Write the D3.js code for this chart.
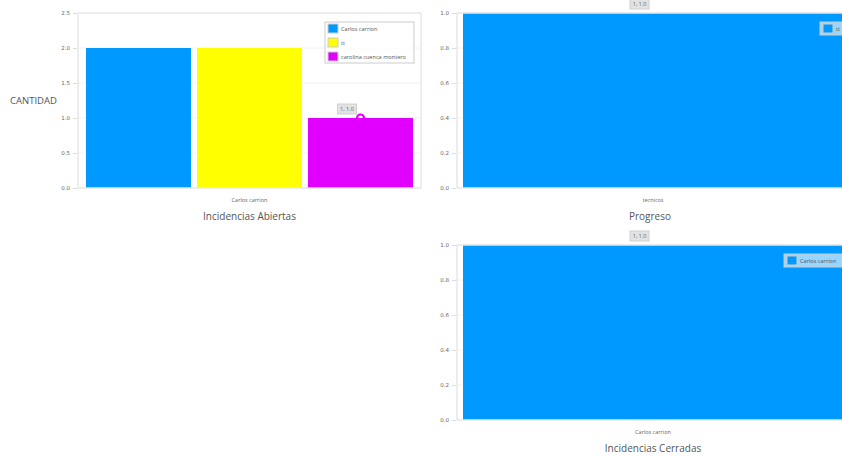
<!DOCTYPE html>
<html>
<head>
<meta charset="utf-8">
<script src="https://cdn.jsdelivr.net/npm/d3@7"></script>
<style>
  body { margin: 0; background: #fff; overflow: hidden; }
  text { font-family: "Open Sans", sans-serif; }
</style>
</head>
<body>
<script>
// data
var abiertasSeries = ['Carlos carrion', 'tt', 'carolina cuenca montero'];
var abiertasValues = [2, 2, 1];
var abiertasCategory = 'Carlos carrion';
var abiertasTicks = [0, 0.5, 1.0, 1.5, 2.0, 2.5];

var progresoSeries = ['tt'];
var progresoValues = [1];
var progresoCategory = 'tecnicos';

var cerradasSeries = ['Carlos carrion'];
var cerradasValues = [1];
var cerradasCategory = 'Carlos carrion';

var unitTicks = [0, 0.2, 0.4, 0.6, 0.8, 1.0];

var colors = ['#0099ff', '#ffff00', '#e100ff'];

var svg = d3.select('body').append('svg')
    .attr('width', 842)
    .attr('height', 457);

svg.append('text')
    .attr('x', 10)
    .attr('y', 104)
    .attr('font-size', '9.5px')
    .attr('fill', '#555')
    .text('CANTIDAD');

function drawPanel(opt) {
    var g = svg.append('g');
    var x0 = opt.left, x1 = opt.right, y0 = opt.top, y1 = opt.bottom;

    var yScale = d3.scaleLinear().domain([0, opt.max]).range([y1, y0]);
    var xScale = d3.scaleBand()
        .domain(opt.series)
        .range([x0 + opt.inset, x1 - opt.inset])
        .paddingInner(opt.series.length > 1 ? 0.054 : 0);

    // grid lines
    g.selectAll('.grid')
        .data(opt.ticks)
        .enter()
        .append('line')
        .attr('x1', x0).attr('x2', x1)
        .attr('y1', function (d) { return yScale(d); })
        .attr('y2', function (d) { return yScale(d); })
        .attr('stroke', '#f2f2f2');

    // bars
    g.selectAll('.bar')
        .data(opt.values)
        .enter()
        .append('rect')
        .attr('x', function (d, i) { return xScale(opt.series[i]); })
        .attr('y', function (d) { return yScale(d); })
        .attr('width', xScale.bandwidth())
        .attr('height', function (d) { return y1 - yScale(d); })
        .attr('fill', function (d, i) { return colors[i]; });

    // frame
    g.append('rect')
        .attr('x', x0).attr('y', y0)
        .attr('width', x1 - x0).attr('height', y1 - y0)
        .attr('fill', 'none')
        .attr('stroke', '#e8e8e8')
        .attr('stroke-width', 1.5);

    // y axis
    var axis = g.append('g')
        .attr('transform', 'translate(' + (x0 - 1) + ',0)')
        .call(d3.axisLeft(yScale).tickValues(opt.ticks).tickFormat(d3.format('.1f')).tickSize(4).tickPadding(3));
    axis.select('.domain').remove();
    axis.selectAll('line').attr('stroke', '#ddd');
    axis.selectAll('text')
        .attr('font-size', '5.5px')
        .attr('fill', '#666')
        .style('font-family', '"DejaVu Sans", sans-serif');

    var cx = (x0 + x1) / 2;
    g.append('text')
        .attr('x', cx).attr('y', y1 + 14)
        .attr('text-anchor', 'middle')
        .attr('font-size', '5.5px')
        .attr('fill', '#666')
        .text(opt.category);

    g.append('text')
        .attr('x', cx - opt.titleShift).attr('y', y1 + 32)
        .attr('text-anchor', 'middle')
        .attr('font-size', '10px')
        .attr('fill', '#555')
        .text(opt.title);

    // legend
    var rowH = 14;
    var legendW = opt.legendW;
    var lg = g.append('g')
        .attr('transform', 'translate(' + (x1 - opt.legendRight - legendW) + ',' + (y0 + 9) + ')');
    lg.append('rect')
        .attr('width', legendW)
        .attr('height', opt.series.length * rowH - 1)
        .attr('fill', 'rgba(255,255,255,0.6)')
        .attr('stroke', '#ccc');
    var rows = lg.selectAll('.row')
        .data(opt.series)
        .enter()
        .append('g')
        .attr('transform', function (d, i) { return 'translate(3,' + (i * rowH + 2) + ')'; });
    rows.append('rect')
        .attr('width', 10).attr('height', 9)
        .attr('fill', function (d, i) { return colors[i]; })
        .attr('stroke', '#ccc');
    rows.append('text')
        .attr('x', 13).attr('y', 7)
        .attr('font-size', '5.6px')
        .attr('fill', '#555')
        .text(function (d) { return d; });

    // hover tooltip on the highlighted point
    var hi = opt.highlight;
    var px = xScale(opt.series[hi]) + xScale.bandwidth() / 2;
    var py = yScale(opt.values[hi]);
    var tip = g.append('g')
        .attr('transform', 'translate(' + (px - 23) + ',' + (py - 14) + ')');
    tip.append('rect')
        .attr('width', 19).attr('height', 10)
        .attr('fill', '#e2e2e2')
        .attr('stroke', '#d0d0d0');
    tip.append('text')
        .attr('x', 9.5).attr('y', 7)
        .attr('text-anchor', 'middle')
        .attr('font-size', '5.5px')
        .attr('fill', '#666')
        .text(opt.values[hi] + ', ' + d3.format('.1f')(opt.values[hi]));
    if (opt.circle) {
        g.append('circle')
            .attr('cx', px).attr('cy', py)
            .attr('r', 3.5)
            .attr('fill', 'none')
            .attr('stroke', colors[hi])
            .attr('stroke-width', 2.2);
    }
}

drawPanel({
    left: 78, right: 421, top: 13, bottom: 188, inset: 8,
    max: 2.5, ticks: abiertasTicks,
    series: abiertasSeries, values: abiertasValues,
    category: abiertasCategory, title: 'Incidencias Abiertas', titleShift: 0,
    legendW: 89, legendRight: 7, highlight: 2, circle: true
});

drawPanel({
    left: 457, right: 849, top: 13, bottom: 188, inset: 6,
    max: 1, ticks: unitTicks,
    series: progresoSeries, values: progresoValues,
    category: progresoCategory, title: 'Progreso', titleShift: 3,
    legendW: 22, legendRight: 7, highlight: 0, circle: false
});

drawPanel({
    left: 457, right: 849, top: 245, bottom: 420, inset: 6,
    max: 1, ticks: unitTicks,
    series: cerradasSeries, values: cerradasValues,
    category: cerradasCategory, title: 'Incidencias Cerradas', titleShift: 0,
    legendW: 58, legendRight: 7, highlight: 0, circle: false
});
</script>
</body>
</html>
